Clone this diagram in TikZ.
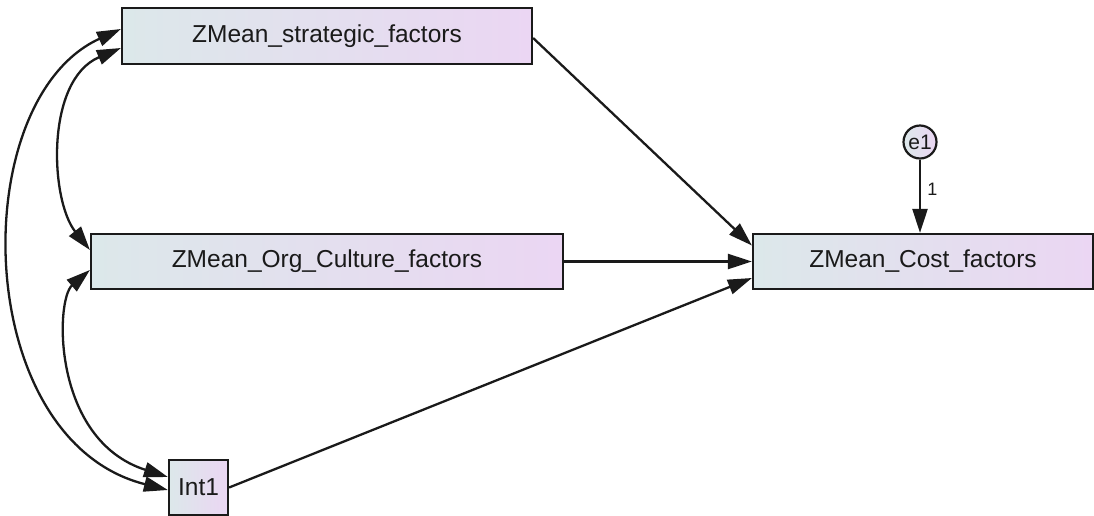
\documentclass[tikz,border=0pt]{standalone}
\usepackage{fontspec}
\setmainfont{Liberation Sans}
\usetikzlibrary{arrows.meta}
\definecolor{boxleft}{HTML}{DCE8EA}
\definecolor{boxright}{HTML}{EBD6F3}
\definecolor{edge}{HTML}{1A1A1A}
\tikzset{
  var/.style={draw=edge, line width=2.2pt, left color=boxleft, right color=boxright,
    font=\fontsize{24.5}{28}\selectfont, text=edge, inner sep=0pt, minimum height=55pt},
  errvar/.style={circle, draw=edge, line width=2.2pt, left color=boxleft, right color=boxright,
    minimum size=33pt, inner sep=0pt, font=\fontsize{21}{24}\selectfont, text=edge},
  path/.style={draw=edge, line width=2.3pt, -{Triangle[length=24pt,width=15pt]}},
  cov/.style={draw=edge, line width=2.3pt, {Triangle[length=24pt,width=15pt]}-{Triangle[length=24pt,width=15pt]}},
  weight/.style={font=\fontsize{18}{20}\selectfont, text=edge}
}
\begin{document}
\begin{tikzpicture}[x=1pt,y=-1pt]
\useasboundingbox (0,0) rectangle (1094,515);
% observed variables
\node[var, minimum width=410pt, minimum height=56pt] (strat) at (327,36) {ZMean\_strategic\_factors};
\node[var, minimum width=472pt] (org) at (327,261.5) {ZMean\_Org\_Culture\_factors};
\node[var, minimum width=340pt] (cost) at (923,261.5) {ZMean\_Cost\_factors};
\node[var, minimum width=59pt] (int) at (198.5,487.5) {Int1};
% error term
\node[errvar] (e1) at (920,142) {e1};
% regression paths
\draw[path] ([yshift=-2pt]strat.east) -- ([yshift=16pt]cost.west);
\draw[path] (org.east) -- (cost.west);
\draw[path] (int.east) -- ([yshift=-16.5pt]cost.west);
\draw[path] (e1.south) -- node[weight, right=3pt, pos=0.4] {1} (e1.south |- cost.north);
% covariances
\draw[cov] ([yshift=-12pt]strat.west) .. controls (45,80) and (50,200) .. ([yshift=11.5pt]org.west);
\draw[cov] ([yshift=7pt]strat.west) .. controls (-35,100) and (-30,440) .. ([yshift=-2.5pt]int.west);
\draw[cov] ([yshift=-8.5pt]org.west) .. controls (55,300) and (52,440) .. ([yshift=10.5pt]int.west);
\end{tikzpicture}
\end{document}
